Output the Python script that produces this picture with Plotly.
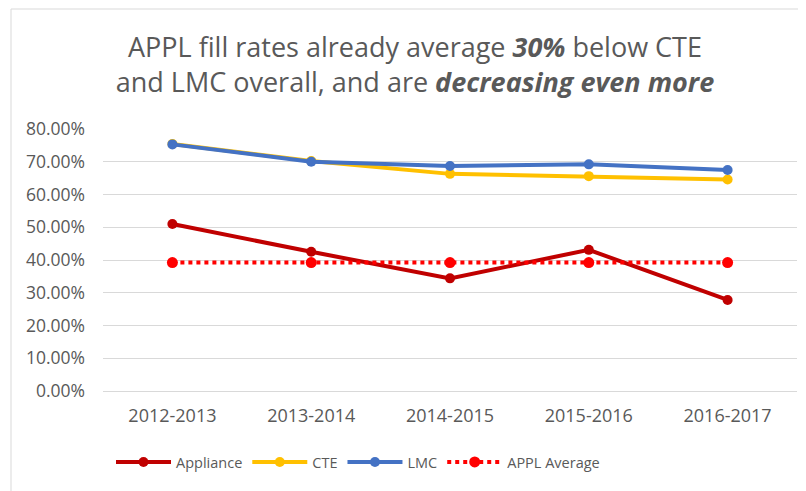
import plotly.graph_objects as go

categories = ["2012-2013", "2013-2014", "2014-2015", "2015-2016", "2016-2017"]
appliance = [0.510, 0.425, 0.344, 0.431, 0.278]
cte = [0.754, 0.702, 0.663, 0.656, 0.646]
lmc = [0.753, 0.700, 0.687, 0.692, 0.675]
appl_avg = [0.392, 0.392, 0.392, 0.392, 0.392]

# page body has an 8px margin, so figure is sized/positioned accordingly
OFF = 8
W, H = 806 - OFF, 491 - OFF
L, R, T, B = 103 - OFF, 9, 129 - OFF, 100
pw, ph = W - L - R, H - T - B

FONT = "Open Sans, sans-serif"
GRAY = "#595959"

fig = go.Figure()
fig.add_trace(go.Scatter(x=categories, y=appliance, name="Appliance", mode="lines+markers",
                         line=dict(color="#C00000", width=4), marker=dict(size=10, color="#C00000")))
fig.add_trace(go.Scatter(x=categories, y=cte, name="CTE", mode="lines+markers",
                         line=dict(color="#FFC000", width=4), marker=dict(size=10, color="#FFC000")))
fig.add_trace(go.Scatter(x=categories, y=lmc, name="LMC", mode="lines+markers",
                         line=dict(color="#4472C4", width=4), marker=dict(size=10, color="#4472C4")))
fig.add_trace(go.Scatter(x=categories, y=appl_avg, name="APPL Average", mode="lines+markers",
                         line=dict(color="#FF0000", width=4, dash="dot"), marker=dict(size=11, color="#FF0000")))

def px_x(p):
    return (p - OFF - L) / pw

def px_y(p):
    return (H - B - (p - OFF)) / ph

fig.update_layout(
    width=W, height=H,
    margin=dict(l=L, r=R, t=T, b=B),
    paper_bgcolor="white", plot_bgcolor="white",
    font=dict(family=FONT, color=GRAY, size=18),
    title=dict(
        text="APPL fill rates already average <b><i>30%</i></b> below CTE<br>and LMC overall, and are <b><i>decreasing even more</i></b>",
        x=(415 - OFF) / W, xanchor="center", xref="container",
        y=1 - 49 / H, yanchor="middle", yref="container",
        font=dict(family=FONT, size=27, color=GRAY),
    ),
    xaxis=dict(type="category", range=[-0.5, 4.5], showgrid=False, showline=True,
               linecolor="#D9D9D9", linewidth=1, ticks="", ticklabelstandoff=8,
               tickfont=dict(size=18, color=GRAY)),
    yaxis=dict(range=[0, 0.8], dtick=0.1, tickformat=".2%", showgrid=True,
               gridcolor="#D9D9D9", gridwidth=1, zeroline=False, ticks="",
               ticklabelstandoff=17, tickfont=dict(size=17.5, color=GRAY)),
    legend=dict(orientation="h", x=px_x(358), xanchor="center", y=px_y(462), yanchor="middle",
                font=dict(size=14.5, color=GRAY), itemwidth=55, bgcolor="rgba(0,0,0,0)"),
    showlegend=True,
    shapes=[
        dict(type="line", xref="paper", yref="paper", x0=px_x(11), x1=px_x(11), y0=px_y(491), y1=px_y(9),
             line=dict(color="#D9D9D9", width=1)),
        dict(type="line", xref="paper", yref="paper", x0=px_x(11), x1=px_x(806), y0=px_y(9), y1=px_y(9),
             line=dict(color="#D9D9D9", width=1)),
    ],
)

fig.write_html("out.html")
